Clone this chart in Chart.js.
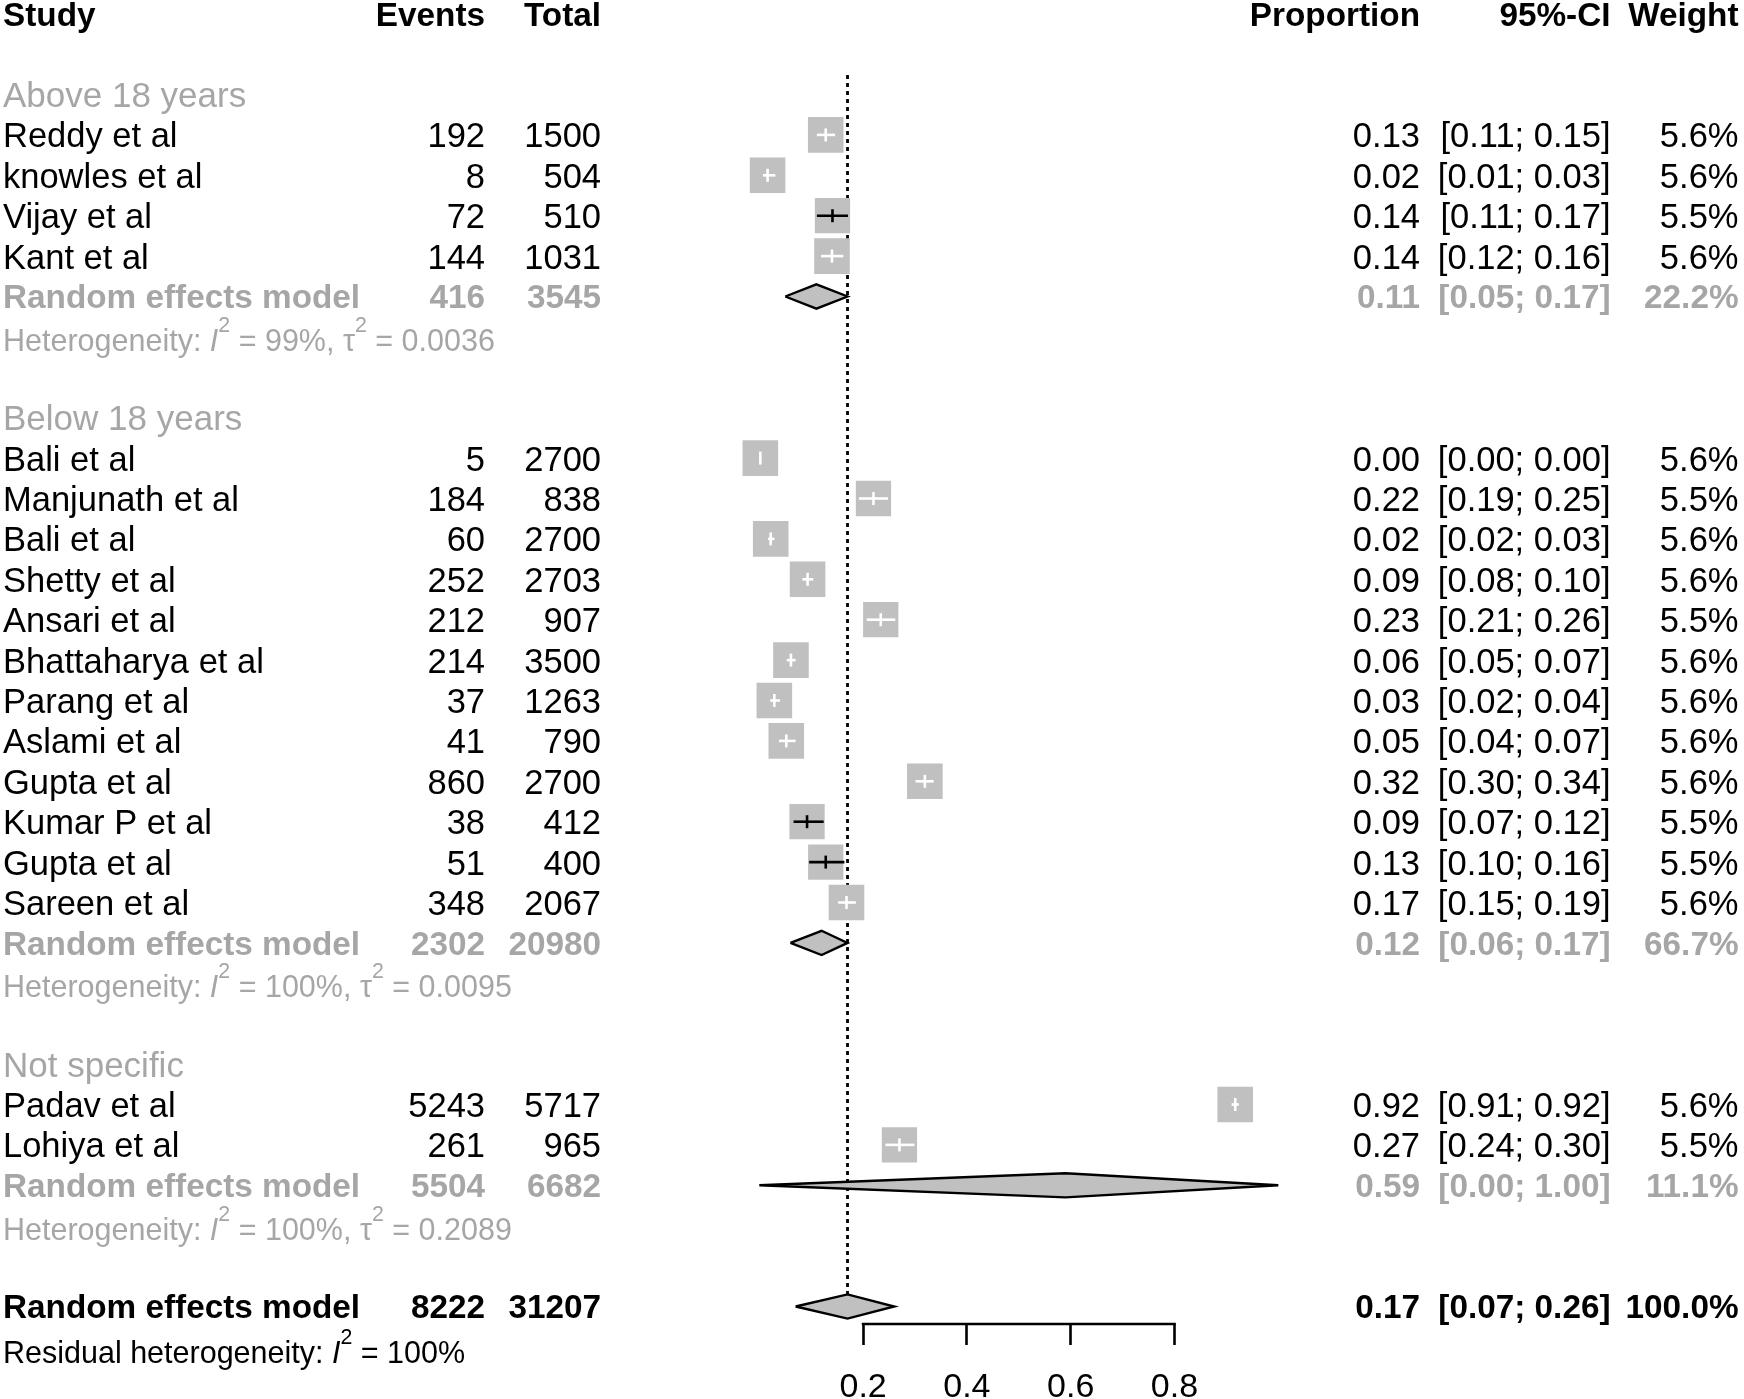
<!DOCTYPE html>
<html><head><meta charset="utf-8">
<script src="https://cdn.jsdelivr.net/npm/chart.js@4.4.0/dist/chart.umd.min.js"></script>
<style>html,body{margin:0;padding:0;background:#fff;overflow:hidden}#wrap{width:1744px;height:1399px;position:relative}</style>
</head><body><div id="wrap"><canvas id="c"></canvas></div>
<script>
// ---------- data ----------
const studyNames   = ['Reddy et al','knowles et al','Vijay et al','Kant et al',
  'Bali et al','Manjunath et al','Bali et al','Shetty et al','Ansari et al','Bhattaharya et al','Parang et al','Aslami et al','Gupta et al','Kumar P et al','Gupta et al','Sareen et al',
  'Padav et al','Lohiya et al'];
const studyEvents  = [192,8,72,144, 5,184,60,252,212,214,37,41,860,38,51,348, 5243,261];
const studyTotals  = [1500,504,510,1031, 2700,838,2700,2703,907,3500,1263,790,2700,412,400,2067, 5717,965];
const studyProps   = [0.128,0.016,0.141,0.140, 0.002,0.220,0.022,0.093,0.234,0.061,0.029,0.052,0.319,0.092,0.128,0.168, 0.917,0.270];
const studyLower   = [0.111,0.007,0.111,0.119, 0.001,0.192,0.017,0.083,0.207,0.053,0.021,0.038,0.301,0.066,0.096,0.152, 0.910,0.243];
const studyUpper   = [0.146,0.031,0.171,0.162, 0.004,0.248,0.029,0.104,0.262,0.070,0.040,0.070,0.336,0.124,0.164,0.186, 0.924,0.299];
const studyWeights = [5.6,5.6,5.5,5.6, 5.6,5.5,5.6,5.6,5.5,5.6,5.6,5.6,5.6,5.5,5.5,5.6, 5.6,5.5];

const groupNames   = ['Above 18 years','Below 18 years','Not specific'];
const groupSizes   = [4,12,2];
const groupEvents  = [416,2302,5504];
const groupTotals  = [3545,20980,6682];
const groupProps   = [0.11,0.12,0.59];
const groupLower   = [0.05,0.06,0.00];
const groupUpper   = [0.17,0.17,1.00];
const groupWeights = [22.2,66.7,11.1];
const groupI2      = ['99%','100%','100%'];
const groupTau2    = ['0.0036','0.0095','0.2089'];

const overallEvents = 8222, overallTotal = 31207;
const overallProp = 0.17, overallLower = 0.07, overallUpper = 0.26, overallWeight = 100.0;
const residualI2 = '100%';

const xTickValues = [0.2,0.4,0.6,0.8];
const headers = ['Study','Events','Total','Proportion','95%-CI','Weight'];

// ---------- layout (rows) ----------
const Y0 = 13.7, ROWH = 40.4, AXIS_Y = 1324;
const studyRows = [], groupLabelRows = [], groupRERows = [], groupHetRows = [];
let r = 2;
groupSizes.forEach((n) => {
  groupLabelRows.push(r++);
  for (let k = 0; k < n; k++) studyRows.push(r++);
  groupRERows.push(r++);
  groupHetRows.push(r++);
  r++;
});
const overallRow = r, residualRow = r + 1;

const FONT = '"Liberation Sans", Arial, sans-serif';
const GREY = '#a6a6a6';
const BOXGREY = '#c0c0c0';
const DH = 0.3; // diamond half height (rows)

function squareSide(w) { return 35.6 * Math.sqrt(w / 5.6); }
function diamond(est, lo, hi, row) {
  return [{x: lo, y: row}, {x: est, y: row - DH}, {x: hi, y: row}, {x: est, y: row + DH}, {x: lo, y: row}];
}

const ciData = [];
studyProps.forEach((p, i) => {
  ciData.push({x: studyLower[i], y: studyRows[i]}, {x: studyUpper[i], y: studyRows[i]}, {x: null, y: null});
});
function ciInk(chart, i) {
  const xs = chart.scales.x;
  const span = xs.getPixelForValue(studyUpper[i]) - xs.getPixelForValue(studyLower[i]);
  return span > 0.84 * squareSide(studyWeights[i]) ? '#000000' : '#ffffff';
}

const datasets = [
  { label: 'ci', data: ciData, showLine: true, pointRadius: 0, borderWidth: 2.6, clip: false, order: 0,
    segment: { borderColor: (ctx) => ciInk(ctx.chart, Math.floor(ctx.p0DataIndex / 3)) } },
  { label: 'est', data: studyProps.map((p, i) => ({x: p, y: studyRows[i]})), pointStyle: 'line', rotation: 90,
    pointRadius: 6.5, pointBorderWidth: 2.6, clip: false, order: 0,
    pointBorderColor: (ctx) => ciInk(ctx.chart, ctx.dataIndex) },
  { label: 'squares', data: studyProps.map((p, i) => ({x: p, y: studyRows[i]})), pointStyle: 'rect',
    pointRadius: (ctx) => squareSide(studyWeights[ctx.dataIndex]) / Math.SQRT2,
    pointBackgroundColor: BOXGREY, pointBorderWidth: 0, pointBorderColor: BOXGREY, clip: false, order: 1 },
];
groupProps.forEach((p, g) => {
  datasets.push({ label: 'grp' + g, data: diamond(p, groupLower[g], groupUpper[g], groupRERows[g]), showLine: true,
    fill: 'shape', backgroundColor: BOXGREY, borderColor: '#000', borderWidth: 2.4, pointRadius: 0, tension: 0, clip: false, order: 2 });
});
datasets.push({ label: 'overall', data: diamond(overallProp, overallLower, overallUpper, overallRow), showLine: true,
  fill: 'shape', backgroundColor: BOXGREY, borderColor: '#000', borderWidth: 2.4, pointRadius: 0, tension: 0, clip: false, order: 2 });
datasets.push({ label: 'ref', data: [{x: overallProp, y: (75 - Y0) / ROWH}, {x: overallProp, y: overallRow - DH}], showLine: true,
  borderColor: '#000', borderWidth: 2.8, borderDash: [4, 4], pointRadius: 0, clip: false, order: 3 });

// ---------- text plugin ----------
const COLX = {study: 3, events: 485, total: 601, prop: 1420, ci: 1610.5, weight: 1738.5};
const FS = 34.5, BFS = 33.3, LFS = 35, HFS = 30.5, HET_SHIFT = 3;
const textPlugin = {
  id: 'forestText',
  afterDraw(chart) {
    const ctx = chart.ctx, ys = chart.scales.y, xs = chart.scales.x;
    const yb = (row, fs) => ys.getPixelForValue(row) + fs * 0.36;
    function t(s, x, row, align, color, bold, fs) {
      fs = fs || (bold ? BFS : FS);
      ctx.font = (bold ? 'bold ' : '') + fs + 'px ' + FONT;
      ctx.fillStyle = color; ctx.textAlign = align; ctx.textBaseline = 'alphabetic';
      ctx.fillText(s, x, yb(row, fs));
    }
    function rowVals(row, name, ev, tot, p, lo, hi, w, color, bold) {
      t(name, COLX.study, row, 'left', color, bold);
      t(String(ev), COLX.events, row, 'right', color, bold);
      t(String(tot), COLX.total, row, 'right', color, bold);
      t(p.toFixed(2), COLX.prop, row, 'right', color, bold);
      t('[' + lo.toFixed(2) + '; ' + hi.toFixed(2) + ']', COLX.ci, row, 'right', color, bold);
      t(w.toFixed(1) + '%', COLX.weight, row, 'right', color, bold);
    }
    function het(row, parts, color, extra) {
      let x = COLX.study;
      const base = yb(row, HFS) + extra;
      ctx.fillStyle = color; ctx.textAlign = 'left'; ctx.textBaseline = 'alphabetic';
      parts.forEach((pt) => {
        let fs = HFS, dy = 0, style = '';
        if (pt.sup) { fs = HFS * 0.7; dy = -HFS * 0.62; }
        if (pt.it) style = 'italic ';
        ctx.font = style + fs + 'px ' + FONT;
        ctx.fillText(pt.t, x, base + dy);
        x += ctx.measureText(pt.t).width;
      });
    }
    ctx.save();
    const hx = [COLX.study, COLX.events, COLX.total, COLX.prop, COLX.ci, COLX.weight];
    headers.forEach((h, i) => t(h, hx[i], 0, i === 0 ? 'left' : 'right', '#000', true));
    let s = 0;
    groupSizes.forEach((n, g) => {
      t(groupNames[g], COLX.study, groupLabelRows[g], 'left', GREY, false, LFS);
      for (let k = 0; k < n; k++, s++) {
        rowVals(studyRows[s], studyNames[s], studyEvents[s], studyTotals[s], studyProps[s], studyLower[s], studyUpper[s], studyWeights[s], '#000', false);
      }
      rowVals(groupRERows[g], 'Random effects model', groupEvents[g], groupTotals[g], groupProps[g], groupLower[g], groupUpper[g], groupWeights[g], GREY, true);
      het(groupHetRows[g], [{t: 'Heterogeneity: '}, {t: 'I', it: true}, {t: '2', sup: true}, {t: ' = ' + groupI2[g] + ', '},
        {t: '\u03c4'}, {t: '2', sup: true}, {t: ' = ' + groupTau2[g]}], GREY, HET_SHIFT);
    });
    rowVals(overallRow, 'Random effects model', overallEvents, overallTotal, overallProp, overallLower, overallUpper, overallWeight, '#000', true);
    het(residualRow, [{t: 'Residual heterogeneity: '}, {t: 'I', it: true}, {t: '2', sup: true}, {t: ' = ' + residualI2}], '#000', HET_SHIFT + 2);
    const a = xs.getPixelForValue(xTickValues[0]), b = xs.getPixelForValue(xTickValues[xTickValues.length - 1]);
    ctx.strokeStyle = '#000'; ctx.lineWidth = 2.6; ctx.lineCap = 'square';
    ctx.beginPath(); ctx.moveTo(a, chart.chartArea.bottom); ctx.lineTo(b, chart.chartArea.bottom); ctx.stroke();
    ctx.restore();
  }
};

// ---------- chart ----------
const X0PX = 759.3, X1PX = 1278.3;
new Chart(document.getElementById('c'), {
  type: 'scatter',
  data: { datasets },
  options: {
    responsive: true, maintainAspectRatio: false, animation: false, events: [],
    layout: { autoPadding: false, padding: { left: X0PX, right: 1744 - X1PX, top: 0, bottom: 0 } },
    plugins: { legend: { display: false }, tooltip: { enabled: false } },
    scales: {
      x: {
        type: 'linear', min: 0, max: 1, position: 'bottom',
        afterBuildTicks: (sc) => { sc.ticks = xTickValues.map((v) => ({value: v})); },
        afterFit: (sc) => { sc.height = 1399 - AXIS_Y; },
        border: { display: false },
        grid: { drawOnChartArea: false, drawTicks: true, tickLength: 21, tickWidth: 2.6, tickColor: '#000', color: '#000' },
        ticks: { color: '#000', padding: 22, font: { family: FONT, size: 34 }, maxRotation: 0, autoSkip: false,
          callback: (v) => Number(v).toFixed(1) }
      },
      y: {
        type: 'linear', display: false, reverse: true,
        min: -Y0 / ROWH, max: (AXIS_Y - Y0) / ROWH
      }
    }
  },
  plugins: [textPlugin]
});
</script>
</body></html>
